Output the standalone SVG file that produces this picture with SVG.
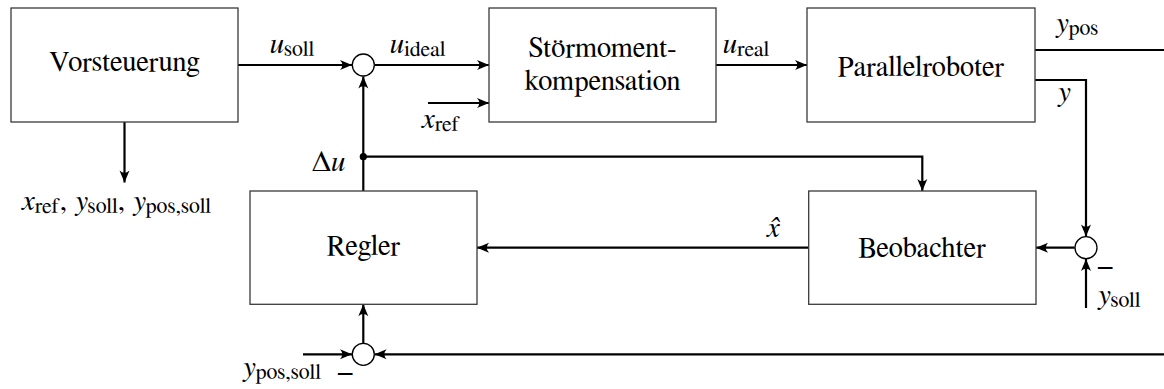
<svg xmlns="http://www.w3.org/2000/svg" width="1164" height="389" viewBox="0 0 1164 389">
<defs>
<style>
text{font-family:"Nimbus Roman","FreeSerif","Liberation Serif","Times New Roman",serif;fill:#000}
.box{fill:#fff;stroke:#3a3a3a;stroke-width:1.3}
.lbl{font-size:28.5px;text-anchor:middle}
.m{font-size:29px}
.i{font-style:italic}
.s{font-size:22px;font-style:normal}
.c{fill:none;stroke:#000;stroke-width:2.2}
.sum{fill:#fff;stroke:#000;stroke-width:1.3}
</style>
<marker id="ah" viewBox="-13 -6 14 12" refX="0" refY="0" markerWidth="14" markerHeight="12" markerUnits="userSpaceOnUse" orient="auto">
<path d="M0,0 L-12,-5 Q-7.5,0 -12,5 Z" fill="#000"/>
</marker>
</defs>
<g id="connectors">
<path class="c" d="M238,65 H352" marker-end="url(#ah)"/>
<path class="c" d="M374.6,65 H489" marker-end="url(#ah)"/>
<path class="c" d="M428,103 H489" marker-end="url(#ah)"/>
<path class="c" d="M716,65 H807" marker-end="url(#ah)"/>
<path class="c" d="M1035,50 H1164"/>
<path class="c" d="M1035,80 H1086 V236.5" marker-end="url(#ah)"/>
<path class="c" d="M1086,308 V259" marker-end="url(#ah)"/>
<path class="c" d="M1074.7,247.7 H1036" marker-end="url(#ah)"/>
<path class="c" d="M808.7,247.7 H477" marker-end="url(#ah)"/>
<path class="c" d="M363.3,191 V76.5" marker-end="url(#ah)"/>
<path class="c" d="M363.3,156.7 H922.3 V191" marker-end="url(#ah)"/>
<path class="c" d="M363.3,343 V304.3" marker-end="url(#ah)"/>
<path class="c" d="M303,354.3 H352" marker-end="url(#ah)"/>
<path class="c" d="M1164,354.3 H374.6" marker-end="url(#ah)"/>
<path class="c" d="M124.5,122 V182.5" marker-end="url(#ah)"/>
<circle cx="363.3" cy="156.7" r="3.6" fill="#000"/>
</g>
<g id="vorsteuerung">
<rect class="box" x="11" y="8" width="227" height="114"/>
<text class="lbl" x="124.5" y="71">Vorsteuerung</text>
</g>
<g id="stoermoment">
<rect class="box" x="489" y="8" width="227" height="114"/>
<text class="lbl" x="602.5" y="57">Störmoment-</text>
<text class="lbl" x="602.5" y="90">kompensation</text>
</g>
<g id="parallelroboter">
<rect class="box" x="807" y="8" width="228" height="114"/>
<text class="lbl" x="921" y="76">Parallelroboter</text>
</g>
<g id="regler">
<rect class="box" x="250" y="191" width="227" height="113.3"/>
<text class="lbl" x="363.5" y="254.5">Regler</text>
</g>
<g id="beobachter">
<rect class="box" x="808.7" y="191" width="227.3" height="113.3"/>
<text class="lbl" x="922" y="256.5">Beobachter</text>
</g>
<g id="sum1"><circle class="sum" cx="363.3" cy="65" r="11"/></g>
<g id="sum2"><circle class="sum" cx="1086" cy="247.7" r="11"/></g>
<g id="sum3"><circle class="sum" cx="363.3" cy="354.3" r="11"/></g>
<g id="labels">
<text class="m" x="270" y="53"><tspan class="i">u</tspan><tspan class="s" dy="2.5">soll</tspan></text>
<text class="m" x="390" y="53"><tspan class="i">u</tspan><tspan class="s" dy="2.5">ideal</tspan></text>
<text class="m" x="723" y="53"><tspan class="i">u</tspan><tspan class="s" dy="2.5">real</tspan></text>
<text class="m" x="422" y="128"><tspan class="i">x</tspan><tspan class="s" dy="2.5">ref</tspan></text>
<text class="m" x="1055" y="32"><tspan class="i">y</tspan><tspan class="s" dy="2.5">pos</tspan></text>
<text class="m i" x="1057" y="101">y</text>
<text class="m" x="312" y="171">Δ<tspan class="i">u</tspan></text>
<text class="m i" x="767" y="236.5">x̂</text>
<text class="m" x="1097" y="304"><tspan class="i">y</tspan><tspan class="s" dy="2.5">soll</tspan></text>
<text class="m" x="1097" y="275">−</text>
<text class="m" x="242" y="376"><tspan class="i">y</tspan><tspan class="s" dy="2.5">pos,soll</tspan></text>
<text class="m" x="337" y="380.5">−</text>
<text class="m" x="22" y="210"><tspan class="i">x</tspan><tspan class="s" dy="2.5">ref</tspan><tspan dy="-2.5">, </tspan><tspan class="i">y</tspan><tspan class="s" dy="2.5">soll</tspan><tspan dy="-2.5">, </tspan><tspan class="i">y</tspan><tspan class="s" dy="2.5">pos,soll</tspan></text>
</g>
</svg>
